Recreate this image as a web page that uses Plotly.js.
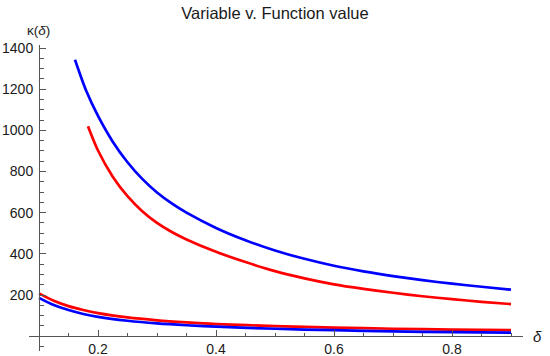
<!DOCTYPE html>
<html>
<head>
<meta charset="utf-8">
<script src="https://cdn.plot.ly/plotly-3.0.1.min.js"></script>
<style>html,body{margin:0;padding:0;background:#fff;}#chart{width:550px;height:356px;}</style>
</head>
<body>
<div id="chart"></div>
<script>
// Upper blue curve
const blueUpperX = [0.161, 0.18, 0.2, 0.225, 0.25, 0.275, 0.3, 0.325, 0.35, 0.4, 0.45, 0.5, 0.55, 0.6, 0.65, 0.7, 0.75, 0.8, 0.85, 0.9];
const blueUpperY = [1343, 1192, 1070, 945, 845, 764, 698, 645, 600, 526, 466, 416, 376, 342, 315, 292, 272, 255, 240, 226];
// Upper red curve
const redUpperX = [0.183, 0.2, 0.225, 0.25, 0.275, 0.3, 0.325, 0.35, 0.4, 0.45, 0.5, 0.55, 0.6, 0.65, 0.7, 0.75, 0.8, 0.85, 0.9];
const redUpperY = [1020, 902, 775, 680, 607, 550, 506, 470, 410, 360, 316, 281, 252, 230, 211, 194, 180, 167, 156];
// Lower red curve
const redLowerX = [0.1, 0.125, 0.15, 0.175, 0.2, 0.25, 0.3, 0.35, 0.4, 0.5, 0.6, 0.7, 0.8, 0.9];
const redLowerY = [208, 172, 146, 127, 112, 91, 77, 67, 59, 49, 42, 36, 32, 29];
// Lower blue curve
const blueLowerX = [0.1, 0.125, 0.15, 0.175, 0.2, 0.25, 0.3, 0.35, 0.4, 0.5, 0.6, 0.7, 0.8, 0.9];
const blueLowerY = [186, 151, 127, 108, 94, 75, 62, 53, 46, 36, 29, 23.5, 19.5, 17];
// Tick labels
const xTickVals = [0.2, 0.4, 0.6, 0.8];
const xTickText = ["0.2", "0.4", "0.6", "0.8"];
const yTickVals = [200, 400, 600, 800, 1000, 1200, 1400];
const yTickText = ["200", "400", "600", "800", "1000", "1200", "1400"];

const lineW = 2.7;
const traces = [
  {x: blueUpperX, y: blueUpperY, color: '#0000ff'},
  {x: redUpperX, y: redUpperY, color: '#ff0000'},
  {x: redLowerX, y: redLowerY, color: '#ff0000'},
  {x: blueLowerX, y: blueLowerY, color: '#0000ff'}
].map(t => ({
  x: t.x, y: t.y, type: 'scatter', mode: 'lines',
  line: {color: t.color, width: lineW, shape: 'spline', smoothing: 0.8},
  hoverinfo: 'skip', showlegend: false
}));

const xr = [0.08305, 0.92034];
const yr = [-72, 1414.6];
const axisColor = '#555555';
const fam = 'Liberation Sans, Arial, sans-serif';
const font = {family: fam, size: 14, color: '#1a1a1a'};

const layout = {
  width: 550, height: 356,
  margin: {l: 29, r: 27, t: 45, b: 5, pad: 0},
  paper_bgcolor: '#fff', plot_bgcolor: '#fff',
  font: font,
  title: {text: 'Variable v. Function value', x: 0.5, xanchor: 'center', y: 0.9635, yanchor: 'middle',
          font: {family: fam, size: 16.5, color: '#1a1a1a'}},
  xaxis: {
    range: xr, showgrid: false, zeroline: false,
    anchor: 'free', position: (0 - yr[0]) / (yr[1] - yr[0]),
    showline: true, linecolor: axisColor, linewidth: 1,
    tickmode: 'array', tickvals: xTickVals, ticktext: xTickText,
    ticks: 'inside', ticklen: 6, tickcolor: axisColor, tickwidth: 1,
    minor: {tickmode: 'linear', tick0: 0, dtick: 0.05, ticks: 'inside', ticklen: 3.5, tickcolor: axisColor, tickwidth: 1, showgrid: false},
    tickfont: font
  },
  yaxis: {
    range: yr, showgrid: false, zeroline: false,
    anchor: 'free', position: (0.1 - xr[0]) / (xr[1] - xr[0]),
    showline: true, linecolor: axisColor, linewidth: 1,
    tickmode: 'array', tickvals: yTickVals, ticktext: yTickText,
    ticks: 'inside', ticklen: 6, tickcolor: axisColor, tickwidth: 1,
    minor: {tickmode: 'linear', tick0: 0, dtick: 50, ticks: 'inside', ticklen: 3.5, tickcolor: axisColor, tickwidth: 1, showgrid: false},
    tickfont: font, ticklabelstandoff: 3
  },
  annotations: [
    {text: 'κ(<i>δ</i>)', xref: 'paper', yref: 'paper', x: 0.0202, y: 1.049, xanchor: 'center', yanchor: 'middle',
     showarrow: false, font: {family: fam, size: 13.5, color: '#1a1a1a'}},
    {text: '<i>δ</i>', xref: 'paper', yref: 'paper', x: 1.030, y: 0.049, xanchor: 'center', yanchor: 'middle',
     showarrow: false, font: {family: fam, size: 15, color: '#1a1a1a'}}
  ]
};

Plotly.newPlot('chart', traces, layout, {displayModeBar: false, staticPlot: true});
</script>
</body>
</html>
